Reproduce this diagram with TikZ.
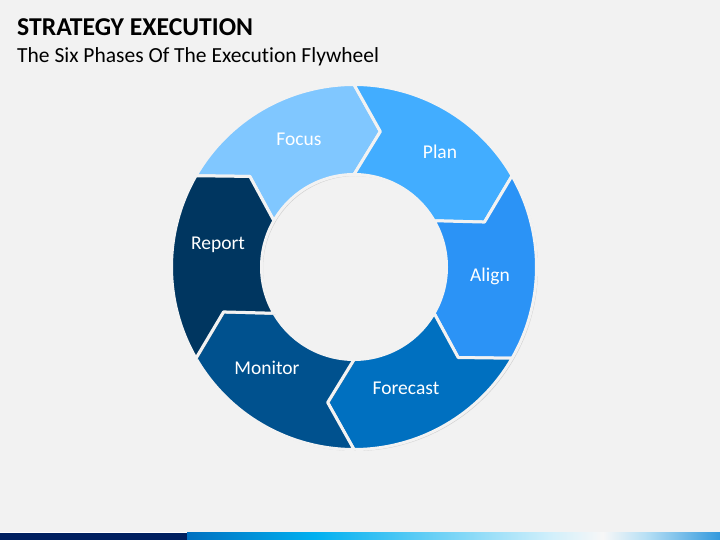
\documentclass[tikz,border=0pt]{standalone}
\usepackage{fontspec}
\setmainfont{Carlito}[Ligatures=NoCommon]
\usetikzlibrary{positioning,shadows}

\definecolor{bgcol}{HTML}{F2F2F2}
\definecolor{focuscol}{HTML}{80C7FF}
\definecolor{plancol}{HTML}{42ADFF}
\definecolor{aligncol}{HTML}{2B93F6}
\definecolor{forecastcol}{HTML}{0070C0}
\definecolor{monitorcol}{HTML}{00518E}
\definecolor{reportcol}{HTML}{003660}
\definecolor{navycol}{HTML}{002060}
\definecolor{stripa}{HTML}{00B0F0}
\definecolor{stripb}{HTML}{D0EFFB}
\definecolor{stripc}{HTML}{F7F7F7}
\definecolor{stripd}{HTML}{B8E0F5}
\definecolor{stripe}{HTML}{3399DD}

\pgfdeclarehorizontalshading{stripshade}{100bp}{color(0bp)=(forecastcol); color(25bp)=(forecastcol);
  color(37bp)=(stripa); color(59bp)=(stripb); color(64bp)=(stripc); color(68bp)=(stripd);
  color(75bp)=(stripe); color(100bp)=(stripe)}

% one arrow segment of the wheel: #1 = angle of its tail end, #2 = colour
\newcommand{\phaseseg}[2]{%
  \path[phase,fill=#2] (#1:182.5) arc[start angle=#1, end angle={#1-60}, radius=182.5]
     -- ({#1-71}:138) -- ({#1-60}:92.5) arc[start angle={#1-60}, end angle=#1, radius=92.5]
     -- ({#1-11}:138) -- cycle;}

\begin{document}
\begin{tikzpicture}[x=1pt,y=1pt,
                    phase/.style={draw=bgcol,line width=3pt,line join=round,
                      drop shadow={shadow xshift=1.5pt,shadow yshift=-1.5pt,opacity=0.3}},
                    label node/.style={text=white,font=\fontsize{19.5}{23}\selectfont}
                   ]
   \fill[bgcol] (0,0) rectangle (720,540);
   \useasboundingbox (0,0) rectangle (720,540);
   % title
   \node[anchor=base west,inner sep=0pt,font=\fontsize{25.7}{30}\selectfont\bfseries] (title) at (17,504) {STRATEGY EXECUTION};
   \node[anchor=base west,inner sep=0pt,font=\fontsize{21.5}{26}\selectfont] (subtitle) at (17,477) {The Six Phases Of The Execution Flywheel};
   % wheel
   \begin{scope}[shift={(354,273)}]
     \phaseseg{150}{focuscol}
     \phaseseg{90}{plancol}
     \phaseseg{30}{aligncol}
     \phaseseg{-30}{forecastcol}
     \phaseseg{-90}{monitorcol}
     \phaseseg{-150}{reportcol}
   \end{scope}
   \node[label node] (focus) at (299,401) {Focus};
   \node[label node] (plan) at (440,388) {Plan};
   \node[label node] (align) at (490,264) {Align};
   \node[label node] (forecast) at (406,152) {Forecast};
   \node[label node] (monitor) at (267,172) {Monitor};
   \node[label node] (report) at (218,295) {Report};
   % bottom strip
   \fill[white] (0,7) rectangle (720,8.2);
   \fill[navycol] (0,0) rectangle (187,7);
   \shade[shading=stripshade] (187,0) rectangle (720,7);
 \end{tikzpicture}
\end{document}
